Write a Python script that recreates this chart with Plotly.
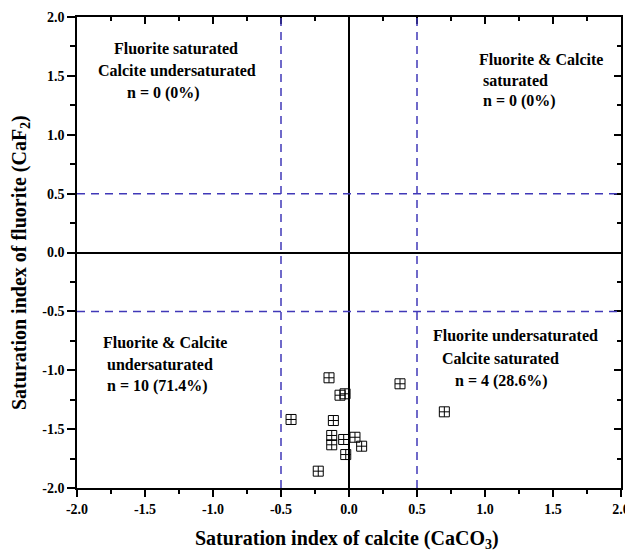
import plotly.graph_objects as go

# Data: saturation indices
si_calcite = [-0.147, -0.066, -0.029, 0.375, -0.426, -0.115, -0.127, -0.127,
              -0.039, 0.044, 0.093, -0.024, -0.226, 0.701]
si_fluorite = [-1.064, -1.212, -1.200, -1.115, -1.418, -1.427, -1.554, -1.633,
               -1.588, -1.569, -1.645, -1.716, -1.857, -1.353]

thresholds = [-0.5, 0.5]
tick_vals = [-2.0, -1.5, -1.0, -0.5, 0.0, 0.5, 1.0, 1.5, 2.0]
tick_text = ["-2.0", "-1.5", "-1.0", "-0.5", "0.0", "0.5", "1.0", "1.5", "2.0"]

W, H = 625, 553
L, R, T, B = 77, 4, 17, 65
PW, PH = W - L - R, H - T - B

def px(x):
    return (x - L) / PW

def py(y):
    return (H - B - y) / PH

SERIF = "Liberation Serif, Times New Roman, serif"
DASH_COLOR = "#4038b8"

fig = go.Figure()

fig.add_trace(go.Scatter(
    x=si_calcite, y=si_fluorite, mode="markers",
    marker=dict(symbol="square-cross-open", size=10, color="black",
                line=dict(width=1, color="black")),
    showlegend=False,
))
# invisible trace to activate mirrored axes (inward ticks on top/right)
fig.add_trace(go.Scatter(x=[None], y=[None], xaxis="x2", yaxis="y2",
                         showlegend=False, hoverinfo="skip"))

for t in thresholds:
    fig.add_shape(type="line", x0=t, x1=t, y0=-2, y1=2, xref="x", yref="y",
                  line=dict(color=DASH_COLOR, width=1.5, dash="8px,6px"))
    fig.add_shape(type="line", x0=-2, x1=2, y0=t, y1=t, xref="x", yref="y",
                  line=dict(color=DASH_COLOR, width=1.5, dash="8px,6px"))

tickfont = dict(family=SERIF, size=14, color="black", weight="bold")
common = dict(range=[-2, 2], tickvals=tick_vals, ticktext=tick_text,
              showgrid=False, linecolor="black", linewidth=1.5,
              tickcolor="black", tickwidth=1.5, fixedrange=True,
              automargin=False)

fig.update_layout(
    template="none",
    width=W, height=H,
    margin=dict(l=L, r=R, t=T, b=B, autoexpand=False),
    plot_bgcolor="white", paper_bgcolor="white",
    xaxis=dict(**common, ticks="outside", ticklen=7, mirror=True,
               zeroline=True, zerolinecolor="black", zerolinewidth=1.5,
               tickfont=tickfont, ticklabeloverflow="allow",
               minor=dict(dtick=0.25, tick0=-2, ticks="outside", ticklen=4,
                          tickwidth=1.5, tickcolor="black")),
    yaxis=dict(**common, ticks="outside", ticklen=8, mirror=True,
               zeroline=True, zerolinecolor="black", zerolinewidth=1.5,
               tickfont=tickfont, ticklabeloverflow="allow",
               minor=dict(dtick=0.25, tick0=-2, ticks="outside", ticklen=5,
                          tickwidth=1.5, tickcolor="black")),
    xaxis2=dict(**common, overlaying="x", side="top", ticks="inside",
                ticklen=7, showticklabels=False, zeroline=False,
                minor=dict(dtick=0.25, tick0=-2, ticks="inside", ticklen=4,
                           tickwidth=1.5, tickcolor="black")),
    yaxis2=dict(**common, overlaying="y", side="right", ticks="inside",
                ticklen=7, showticklabels=False, zeroline=False,
                minor=dict(dtick=0.25, tick0=-2, ticks="inside", ticklen=4,
                           tickwidth=1.5, tickcolor="black")),
)

labels = [
    ("Fluorite saturated", 112, 49),
    ("Calcite undersaturated", 96, 71),
    ("n = 0 (0%)", 125, 93),
    ("Fluorite & Calcite", 477, 60),
    ("saturated", 481, 81),
    ("n = 0 (0%)", 481, 101),
    ("Fluorite & Calcite", 101, 342),
    ("undersaturated", 105, 364),
    ("n = 10 (71.4%)", 105, 386),
    ("Fluorite undersaturated", 431, 335),
    ("Calcite saturated", 440, 358),
    ("n = 4 (28.6%)", 453, 381),
]
for text, x, y in labels:
    fig.add_annotation(text=text, x=px(x), y=py(y), xref="paper", yref="paper",
                       xanchor="left", yanchor="middle", showarrow=False,
                       font=dict(family=SERIF, size=16, color="black", weight="bold"))

fig.add_annotation(text="Saturation index of calcite (CaCO<sub>3</sub>)",
                   x=px(347), y=py(539), xref="paper", yref="paper",
                   xanchor="center", yanchor="middle", showarrow=False,
                   font=dict(family=SERIF, size=20, color="black", weight="bold"))
fig.add_annotation(text="Saturation index of fluorite (CaF<sub>2</sub>)",
                   x=px(20), y=py(263), xref="paper", yref="paper",
                   xanchor="center", yanchor="middle", showarrow=False,
                   textangle=-90,
                   font=dict(family=SERIF, size=20, color="black", weight="bold"))

fig.write_html(
    "out.html",
    config={"displayModeBar": False},
    post_script="document.body.style.margin='0';document.body.style.overflow='hidden';",
)
